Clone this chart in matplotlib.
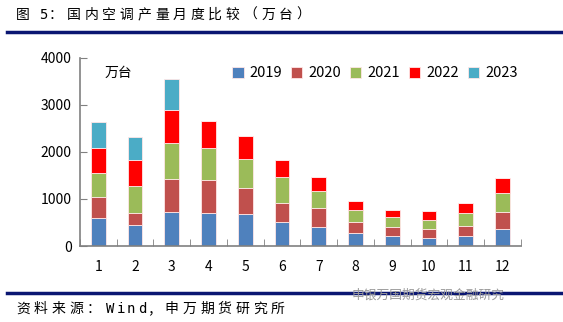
import matplotlib
matplotlib.use('Agg')
import matplotlib.pyplot as plt
import numpy as np

plt.rcParams['font.family'] = ['Noto Sans CJK SC', 'DejaVu Sans']

# monthly output, 10k units
months = ['1', '2', '3', '4', '5', '6', '7', '8', '9', '10', '11', '12']
y2019 = [603, 440, 723, 702, 674, 504, 411, 284, 213, 177, 220, 362]
y2020 = [447, 269, 703, 709, 560, 418, 405, 234, 198, 185, 213, 361]
y2021 = [510, 568, 765, 667, 624, 553, 354, 248, 206, 191, 262, 412]
y2022 = [532, 553, 703, 574, 490, 355, 305, 199, 142, 192, 220, 319]
y2023 = [539, 496, 659]
years = ['2019', '2020', '2021', '2022', '2023']
colors = ['#4F81BD', '#C0504D', '#9BBB59', '#FF0000', '#4BACC6']


def spaced_text(fig, x0, y, s, pitch, **kw):
    # one char at a time to keep the wide spacing of the original;
    # latin chars are monospaced and take ~0.6 of a CJK cell
    xx = x0
    for ch in s:
        if ch == ' ':
            xx += pitch * 0.25
        elif ord(ch) < 128:
            fig.text(xx + pitch * 0.3, y, ch, ha='center', va='center',
                     family='DejaVu Sans Mono', **kw)
            xx += pitch * 0.6
        else:
            fig.text(xx, y, ch, ha='left', va='center', **kw)
            xx += pitch


fig = plt.figure(figsize=(5.63, 3.22), dpi=100)
ax = fig.add_axes([0.142, 0.236, 0.783, 0.584])

x = np.arange(len(months))
bottom = np.zeros(len(months))
for name, vals, col in zip(years, [y2019, y2020, y2021, y2022, y2023], colors):
    v = np.zeros(len(months))
    v[:len(vals)] = vals
    ax.bar(x, v, 0.4, bottom=bottom, color=col, label=name,
           edgecolor='#FFE6E6', linewidth=0.6)
    bottom += v

ax.set_xlim(-0.5, len(months) - 0.5)
ax.set_ylim(0, 4000)
ax.set_yticks([0, 1000, 2000, 3000, 4000])
ax.set_xticks(x)
ax.set_xticklabels(months)
ax.set_xticks(np.arange(-0.5, len(months) + 0.5, 1), minor=True)
ax.tick_params(axis='x', which='major', length=0, labelsize=10, pad=10)
ax.tick_params(axis='x', which='minor', direction='in', length=5, color='#808080')
ax.tick_params(axis='y', direction='in', length=5, color='#808080', labelsize=10, pad=6)
for s in ['top', 'right']:
    ax.spines[s].set_visible(False)
for s in ['left', 'bottom']:
    ax.spines[s].set_color('#808080')
    ax.spines[s].set_linewidth(1.2)

ax.text(0.055, 0.92, '万台', transform=ax.transAxes, fontsize=10, va='center')
ax.legend(loc='upper left', bbox_to_anchor=(0.315, 1.025), ncol=5, frameon=False,
          fontsize=10.5, handlelength=0.8, handleheight=0.8, columnspacing=0.6,
          handletextpad=0.4)

# title, rules and source line
spaced_text(fig, 0.029, 0.953, '图 5：国内空调产量月度比较（万台）', 0.0314,
            fontsize=10)
fig.add_artist(plt.Line2D([0.012, 1.0], [0.902, 0.902], color='#0A1672', linewidth=2.5))
fig.add_artist(plt.Line2D([0.012, 1.0], [0.09, 0.09], color='#0A1672', linewidth=2.5))
spaced_text(fig, 0.029, 0.041, '资料来源：Wind，申万期货研究所', 0.0314,
            fontsize=10)
fig.text(0.625, 0.084, '申银万国期货宏观金融研究', fontsize=9.2, va='center',
         color='#9A9A9A')

fig.savefig('out.png', dpi=100)
